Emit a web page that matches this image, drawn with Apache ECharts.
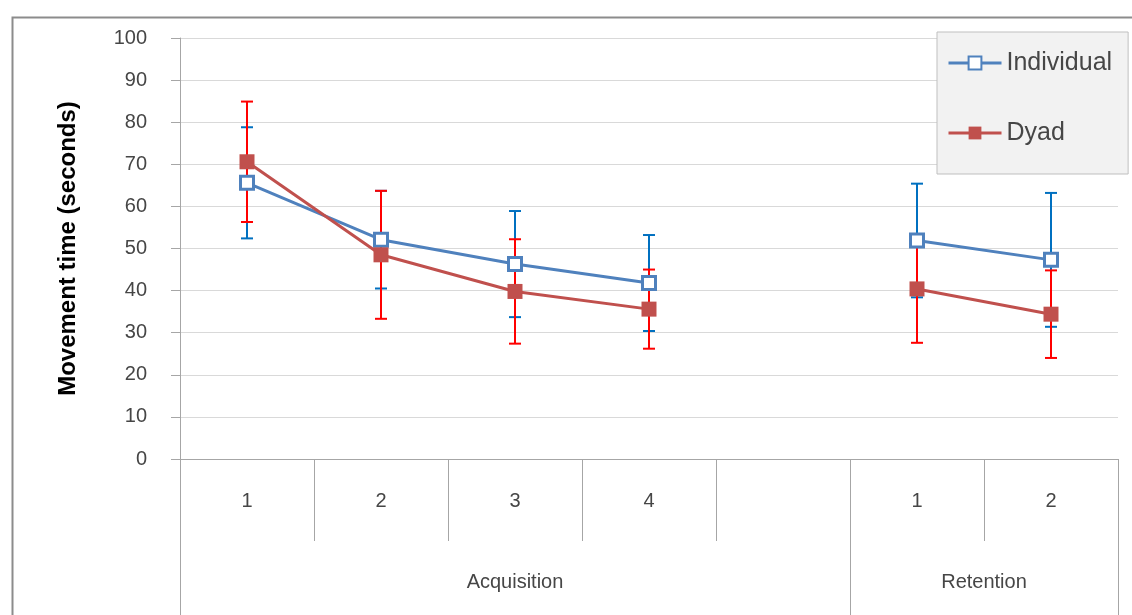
<!DOCTYPE html>
<html>
<head>
<meta charset="utf-8">
<script src="https://cdn.jsdelivr.net/npm/echarts@6/dist/echarts.min.js"></script>
<style>
html,body{margin:0;padding:0;background:#fff;}
#chart{width:1132px;height:615px;}
</style>
</head>
<body>
<div id="chart"></div>
<script>
// ---- data ----
const categories = ['1', '2', '3', '4', '', '1', '2'];
const groupLabels = ['Acquisition', 'Retention'];
const groupSizes = [5, 2];
const seriesNames = ['Individual', 'Dyad'];
const individualMean = [65.6, 52.1, 46.3, 41.8, null, 51.9, 47.3];
const individualErr  = [13.2, 11.6, 12.6, 11.4, null, 13.5, 15.9];
const dyadMean = [70.6, 48.5, 39.8, 35.6, null, 40.4, 34.4];
const dyadErr  = [14.3, 15.2, 12.4, 9.4, null, 12.8, 10.4];
const yTicks = { min: 0, max: 100, interval: 10 };
const yTitle = 'Movement time (seconds)';

// ---- build group axis (half-category positions) ----
const nCat = categories.length;
const groupAxisData = new Array(nCat * 2 + 1).fill('');
const groupTickIdx = [0];
const groupLabelIdx = [];
let acc = 0;
groupSizes.forEach((s, g) => {
  groupAxisData[acc * 2 + s] = groupLabels[g];
  groupLabelIdx.push(acc * 2 + s);
  acc += s;
  groupTickIdx.push(acc * 2);
});

const FONT = '"Liberation Sans", Arial, sans-serif';
const textColor = '#464646';
const axisColor = '#A6A6A6';

function errData(mean, err) {
  const out = [];
  mean.forEach((m, i) => { if (m != null) out.push([i, m, err[i]]); });
  return out;
}
function errRender(color) {
  return function (params, api) {
    const x = api.value(0), m = api.value(1), e = api.value(2);
    const top = api.coord([x, m + e]);
    const bot = api.coord([x, m - e]);
    const hw = 6;
    const st = { stroke: color, lineWidth: 2 };
    return {
      type: 'group',
      children: [
        { type: 'line', shape: { x1: top[0], y1: top[1], x2: bot[0], y2: bot[1] }, style: st },
        { type: 'line', shape: { x1: top[0] - hw, y1: top[1], x2: top[0] + hw, y2: top[1] }, style: st },
        { type: 'line', shape: { x1: bot[0] - hw, y1: bot[1], x2: bot[0] + hw, y2: bot[1] }, style: st }
      ]
    };
  };
}

const chart = echarts.init(document.getElementById('chart'), null, { renderer: 'canvas' });
chart.setOption({
  animation: false,
  backgroundColor: '#fff',
  textStyle: { fontFamily: FONT },
  graphic: [{
    type: 'rect', left: 10, top: 15, z: -10,
    shape: { x: 0, y: 0, width: 1200, height: 700 },
    style: { fill: 'none', stroke: '#8C8C8C', lineWidth: 2 }
  }],
  grid: { left: 180, right: 14, top: 38, bottom: 156 },
  legend: {
    data: seriesNames,
    orient: 'vertical',
    left: 937, top: 32,
    padding: [17, 16, 27, 10],
    itemGap: 42,
    itemWidth: 53, itemHeight: 16,
    backgroundColor: '#F2F2F2',
    borderColor: '#BFBFBF', borderWidth: 1,
    lineStyle: { width: 3 },
    textStyle: { fontSize: 25, color: textColor, fontFamily: FONT, lineHeight: 28 }
  },
  xAxis: [{
    type: 'category',
    data: categories,
    boundaryGap: true,
    axisLine: { lineStyle: { color: axisColor, width: 1 } },
    axisTick: { show: true, interval: 0, length: 82, lineStyle: { color: axisColor } },
    axisLabel: { interval: 0, margin: 32, fontSize: 20, color: textColor, fontFamily: FONT },
    splitLine: { show: false }
  }, {
    type: 'category',
    data: groupAxisData,
    boundaryGap: false,
    position: 'bottom',
    axisLine: { show: false },
    axisTick: { show: true, length: 156, interval: (i) => groupTickIdx.indexOf(i) >= 0, lineStyle: { color: axisColor } },
    axisLabel: { interval: (i) => groupLabelIdx.indexOf(i) >= 0, margin: 113, fontSize: 20, color: textColor, fontFamily: FONT },
    splitLine: { show: false }
  }],
  yAxis: {
    type: 'value',
    min: yTicks.min, max: yTicks.max, interval: yTicks.interval,
    name: yTitle,
    nameLocation: 'middle',
    nameRotate: 90,
    nameGap: 100,
    nameTextStyle: { fontSize: 24, fontWeight: 'bold', color: '#000', fontFamily: FONT },
    axisLine: { show: true, lineStyle: { color: axisColor } },
    axisTick: { show: true, length: 9, lineStyle: { color: axisColor } },
    axisLabel: { margin: 33, fontSize: 20, color: textColor, fontFamily: FONT },
    splitLine: { lineStyle: { color: '#D9D9D9', width: 1 } }
  },
  series: [{
    name: 'Individual error',
    type: 'custom',
    xAxisIndex: 0,
    renderItem: errRender('#0070C0'),
    data: errData(individualMean, individualErr),
    z: 2
  }, {
    name: 'Dyad error',
    type: 'custom',
    xAxisIndex: 0,
    renderItem: errRender('#FF0000'),
    data: errData(dyadMean, dyadErr),
    z: 2
  }, {
    name: seriesNames[0],
    type: 'line',
    xAxisIndex: 0,
    data: individualMean.map(v => v == null ? '-' : v),
    symbol: 'rect', symbolSize: 13,
    lineStyle: { color: '#4F81BD', width: 3 },
    itemStyle: { color: '#FFFFFF', borderColor: '#4F81BD', borderWidth: 3 },
    z: 3
  }, {
    name: seriesNames[1],
    type: 'line',
    xAxisIndex: 0,
    data: dyadMean.map(v => v == null ? '-' : v),
    symbol: 'rect', symbolSize: 15,
    lineStyle: { color: '#C0504D', width: 3 },
    itemStyle: { color: '#C0504D', borderColor: '#C0504D', borderWidth: 0 },
    z: 4
  }]
});
</script>
</body>
</html>
